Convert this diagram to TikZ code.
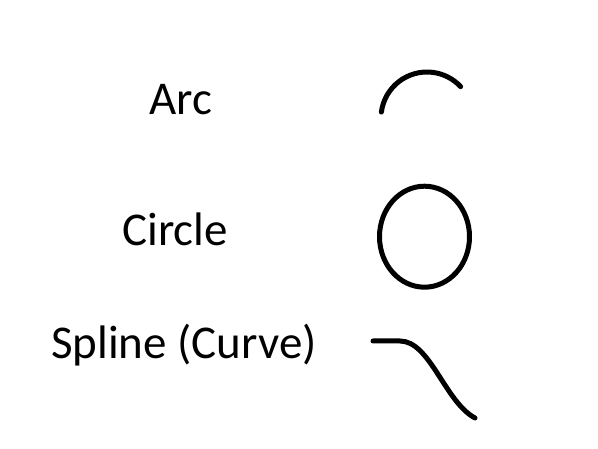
\documentclass[tikz,border=0pt]{standalone}
\usepackage{fontspec}
\setmainfont{Carlito}
\begin{document}
\begin{tikzpicture}[x=1pt,y=-1pt,
  lbl/.style={anchor=base,inner sep=0pt,font=\fontsize{47}{56}\selectfont},
  shp/.style={line width=5pt,line cap=round}]
\useasboundingbox[fill=white] (0,0) rectangle (598,449);
\node[lbl] (arc) at (181,115) {Arc};
\node[lbl] (circ) at (175,245.5) {Circle};
\node[lbl] (spl) at (184,359) {Spline (Curve)};
% arc
\coordinate (ac) at (427,118);
\draw[shp] ([shift={(172.6:46 and -46)}]ac) arc[start angle=172.6,end angle=43,x radius=46,y radius=-46];
% circle
\coordinate (cc) at (424.5,236.7);
\draw[shp] (cc) ellipse[x radius=45,y radius=50.5];
% spline
\coordinate (s0) at (373,341);
\coordinate (s1) at (400,341);
\coordinate (s2) at (475,418);
\draw[shp] (s0) -- (s1) .. controls (430,341) and (445,402) .. (s2);
\end{tikzpicture}
\end{document}
